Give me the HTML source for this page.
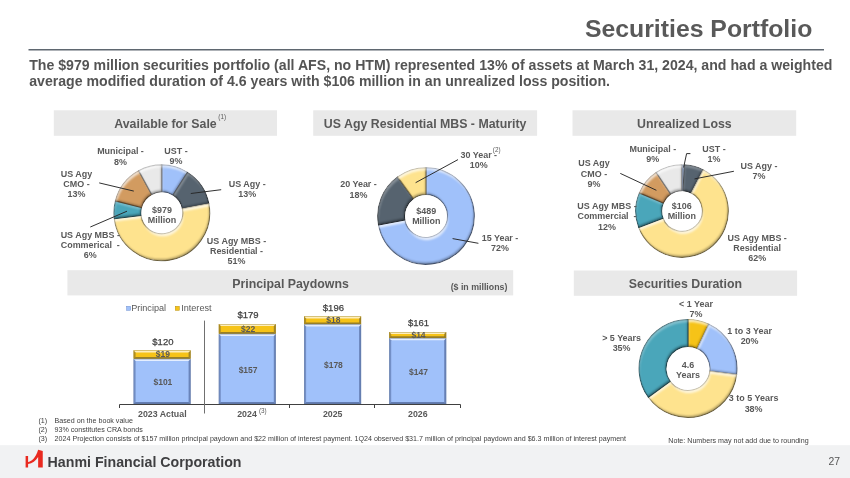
<!DOCTYPE html>
<html><head><meta charset="utf-8"><title>Securities Portfolio</title>
<style>
html,body{margin:0;padding:0;background:#fff;}
body{width:850px;height:478px;overflow:hidden;font-family:"Liberation Sans",sans-serif;}
svg{display:block;will-change:transform;font-family:"Liberation Sans",sans-serif;}
</style></head><body>
<svg width="850" height="478" viewBox="0 0 850 478">
<defs>
<filter id="bev" x="-5%" y="-5%" width="110%" height="110%" color-interpolation-filters="sRGB">
  <feComponentTransfer in="SourceAlpha" result="inv"><feFuncA type="table" tableValues="1 0"/></feComponentTransfer>
  <feGaussianBlur in="inv" stdDeviation="1.1" result="invb"/>
  <feFlood flood-color="#000000" flood-opacity="0.4"/>
  <feComposite in2="invb" operator="in" result="glow"/>
  <feOffset in="SourceAlpha" dx="0.9" dy="2.5" result="o1"/>
  <feComposite in="SourceAlpha" in2="o1" operator="out" result="hl"/>
  <feGaussianBlur in="hl" stdDeviation="0.9" result="hlb"/>
  <feFlood flood-color="#ffffff" flood-opacity="0.8"/>
  <feComposite in2="hlb" operator="in" result="hlc"/>
  <feOffset in="SourceAlpha" dx="-1.2" dy="-2.3" result="o2"/>
  <feComposite in="SourceAlpha" in2="o2" operator="out" result="sh"/>
  <feGaussianBlur in="sh" stdDeviation="0.9" result="shb"/>
  <feFlood flood-color="#000000" flood-opacity="0.35"/>
  <feComposite in2="shb" operator="in" result="shc"/>
  <feMerge result="m">
    <feMergeNode in="SourceGraphic"/><feMergeNode in="glow"/><feMergeNode in="shc"/><feMergeNode in="hlc"/>
  </feMerge>
  <feComposite in="m" in2="SourceAlpha" operator="in"/>
</filter>
<filter id="bevd" x="-5%" y="-5%" width="110%" height="110%" color-interpolation-filters="sRGB">
  <feComponentTransfer in="SourceAlpha" result="inv"><feFuncA type="table" tableValues="1 0"/></feComponentTransfer>
  <feGaussianBlur in="inv" stdDeviation="1.1" result="invb"/>
  <feFlood flood-color="#000000" flood-opacity="0.45"/>
  <feComposite in2="invb" operator="in" result="glow"/>
  <feOffset in="SourceAlpha" dx="0.9" dy="2.5" result="o1"/>
  <feComposite in="SourceAlpha" in2="o1" operator="out" result="hl"/>
  <feGaussianBlur in="hl" stdDeviation="0.9" result="hlb"/>
  <feFlood flood-color="#ffffff" flood-opacity="0.35"/>
  <feComposite in2="hlb" operator="in" result="hlc"/>
  <feOffset in="SourceAlpha" dx="-1.2" dy="-2.3" result="o2"/>
  <feComposite in="SourceAlpha" in2="o2" operator="out" result="sh"/>
  <feGaussianBlur in="sh" stdDeviation="0.9" result="shb"/>
  <feFlood flood-color="#000000" flood-opacity="0.4"/>
  <feComposite in2="shb" operator="in" result="shc"/>
  <feMerge result="m">
    <feMergeNode in="SourceGraphic"/><feMergeNode in="glow"/><feMergeNode in="shc"/><feMergeNode in="hlc"/>
  </feMerge>
  <feComposite in="m" in2="SourceAlpha" operator="in"/>
</filter>
</defs>
<rect x="53.8" y="110.3" width="223.2" height="25.5" fill="#e9e9e9"/>
<rect x="313.2" y="110.3" width="223.9" height="25.5" fill="#e9e9e9"/>
<rect x="572.5" y="110.3" width="223.7" height="25.5" fill="#e9e9e9"/>
<rect x="67.4" y="270.2" width="445.8" height="25.2" fill="#e9e9e9"/>
<rect x="573.8" y="270.5" width="223.3" height="25.3" fill="#e9e9e9"/>
<text x="165.5" y="128.1" font-size="12.35" font-weight="bold" fill="#595959" text-anchor="middle" >Available for Sale</text>
<text x="218.3" y="119.3" font-size="6.3" font-weight="normal" fill="#595959" text-anchor="start" >(1)</text>
<text x="425.15" y="127.8" font-size="12.35" font-weight="bold" fill="#595959" text-anchor="middle" >US Agy Residential MBS - Maturity</text>
<text x="684.35" y="127.8" font-size="12.35" font-weight="bold" fill="#595959" text-anchor="middle" >Unrealized Loss</text>
<text x="290.5" y="287.6" font-size="12.35" font-weight="bold" fill="#595959" text-anchor="middle" >Principal Paydowns</text>
<text x="479" y="289.7" font-size="8.8" font-weight="bold" fill="#595959" text-anchor="middle" >($ in millions)</text>
<text x="685.4" y="288.1" font-size="12.35" font-weight="bold" fill="#595959" text-anchor="middle" >Securities Duration</text>
<path d="M161.80,164.90 A47.9,47.9 0 0 1 187.47,172.36 L173.05,195.07 A21,21 0 0 0 161.80,191.80 Z" fill="#a0c1fa" stroke="#63779b" stroke-width="1.1" stroke-linejoin="round" filter="url(#bev)"/>
<path d="M187.47,172.36 A47.9,47.9 0 0 1 208.85,203.82 L182.43,208.86 A21,21 0 0 0 173.05,195.07 Z" fill="#56636f" stroke="#353d44" stroke-width="1.1" stroke-linejoin="round" filter="url(#bevd)"/>
<path d="M208.85,203.82 A47.9,47.9 0 1 1 114.28,218.80 L140.97,215.43 A21,21 0 1 0 182.43,208.86 Z" fill="#fee38e" stroke="#9d8c58" stroke-width="1.1" stroke-linejoin="round" filter="url(#bev)"/>
<path d="M114.28,218.80 A47.9,47.9 0 0 1 115.40,200.89 L141.46,207.58 A21,21 0 0 0 140.97,215.43 Z" fill="#4aa6ba" stroke="#2d6673" stroke-width="1.1" stroke-linejoin="round" filter="url(#bevd)"/>
<path d="M115.40,200.89 A47.9,47.9 0 0 1 138.72,170.82 L151.68,194.40 A21,21 0 0 0 141.46,207.58 Z" fill="#d29b60" stroke="#82603b" stroke-width="1.1" stroke-linejoin="round" filter="url(#bev)"/>
<path d="M138.72,170.82 A47.9,47.9 0 0 1 161.80,164.90 L161.80,191.80 A21,21 0 0 0 151.68,194.40 Z" fill="#e9e9e9" stroke="#909090" stroke-width="1.1" stroke-linejoin="round" filter="url(#bev)"/>
<text x="120.5" y="154.4" font-size="8.95" font-weight="bold" fill="#595959" text-anchor="middle" >Municipal -</text>
<text x="120.5" y="164.5" font-size="8.95" font-weight="bold" fill="#595959" text-anchor="middle" >8%</text>
<text x="176" y="154.2" font-size="8.95" font-weight="bold" fill="#595959" text-anchor="middle" >UST -</text>
<text x="176" y="164.2" font-size="8.95" font-weight="bold" fill="#595959" text-anchor="middle" >9%</text>
<text x="76.5" y="176.7" font-size="8.95" font-weight="bold" fill="#595959" text-anchor="middle" >US Agy</text>
<text x="76.5" y="186.7" font-size="8.95" font-weight="bold" fill="#595959" text-anchor="middle" >CMO -</text>
<text x="76.5" y="196.6" font-size="8.95" font-weight="bold" fill="#595959" text-anchor="middle" >13%</text>
<text x="247.2" y="186.7" font-size="8.95" font-weight="bold" fill="#595959" text-anchor="middle" >US Agy -</text>
<text x="247.2" y="197" font-size="8.95" font-weight="bold" fill="#595959" text-anchor="middle" >13%</text>
<text x="90.3" y="237.8" font-size="8.95" font-weight="bold" fill="#595959" text-anchor="middle" xml:space="preserve">US Agy MBS -</text>
<text x="90.3" y="247.9" font-size="8.95" font-weight="bold" fill="#595959" text-anchor="middle" xml:space="preserve">Commerical  -</text>
<text x="90.3" y="257.8" font-size="8.95" font-weight="bold" fill="#595959" text-anchor="middle" xml:space="preserve">6%</text>
<text x="236.5" y="244" font-size="8.95" font-weight="bold" fill="#595959" text-anchor="middle" >US Agy MBS -</text>
<text x="236.5" y="254.1" font-size="8.95" font-weight="bold" fill="#595959" text-anchor="middle" >Residential -</text>
<text x="236.5" y="263.7" font-size="8.95" font-weight="bold" fill="#595959" text-anchor="middle" >51%</text>
<text x="162" y="212.8" font-size="8.95" font-weight="bold" fill="#595959" text-anchor="middle" >$979</text>
<text x="162" y="222.9" font-size="8.95" font-weight="bold" fill="#595959" text-anchor="middle" >Million</text>
<path d="M99.2,182.9 L133.8,191.1" fill="none" stroke="#262626" stroke-width="0.95"/>
<path d="M90.3,227 L127,211.2" fill="none" stroke="#262626" stroke-width="0.95"/>
<path d="M221.2,189.7 L190.8,193.5" fill="none" stroke="#262626" stroke-width="0.95"/>
<path d="M426.00,167.70 A48.3,48.3 0 1 1 378.56,225.05 L404.88,220.03 A21.5,21.5 0 1 0 426.00,194.50 Z" fill="#a0c1fa" stroke="#63779b" stroke-width="1.1" stroke-linejoin="round" filter="url(#bev)"/>
<path d="M378.56,225.05 A48.3,48.3 0 0 1 397.61,176.92 L413.36,198.61 A21.5,21.5 0 0 0 404.88,220.03 Z" fill="#56636f" stroke="#353d44" stroke-width="1.1" stroke-linejoin="round" filter="url(#bevd)"/>
<path d="M397.61,176.92 A48.3,48.3 0 0 1 426.00,167.70 L426.00,194.50 A21.5,21.5 0 0 0 413.36,198.61 Z" fill="#fee38e" stroke="#9d8c58" stroke-width="1.1" stroke-linejoin="round" filter="url(#bev)"/>
<text x="358.5" y="187" font-size="8.95" font-weight="bold" fill="#595959" text-anchor="middle" >20 Year -</text>
<text x="358.5" y="197.6" font-size="8.95" font-weight="bold" fill="#595959" text-anchor="middle" >18%</text>
<text x="478.8" y="157.7" font-size="8.95" font-weight="bold" fill="#595959" text-anchor="middle" >30 Year -</text>
<text x="478.8" y="168" font-size="8.95" font-weight="bold" fill="#595959" text-anchor="middle" >10%</text>
<text x="492.8" y="152.2" font-size="6.3" font-weight="normal" fill="#595959" text-anchor="start" >(2)</text>
<text x="500" y="240.5" font-size="8.95" font-weight="bold" fill="#595959" text-anchor="middle" >15 Year -</text>
<text x="500" y="250.9" font-size="8.95" font-weight="bold" fill="#595959" text-anchor="middle" >72%</text>
<text x="426.3" y="213.9" font-size="8.95" font-weight="bold" fill="#595959" text-anchor="middle" >$489</text>
<text x="426.3" y="224.2" font-size="8.95" font-weight="bold" fill="#595959" text-anchor="middle" >Million</text>
<path d="M458,159.6 L415.6,182.7" fill="none" stroke="#262626" stroke-width="0.95"/>
<path d="M478.4,243.3 L452.6,238.6" fill="none" stroke="#262626" stroke-width="0.95"/>
<path d="M682.00,164.70 A46.3,46.3 0 0 1 684.33,164.76 L683.02,190.73 A20.3,20.3 0 0 0 682.00,190.70 Z" fill="#a0c1fa" stroke="#63779b" stroke-width="0.3" stroke-linejoin="round" filter="url(#bev)"/>
<path d="M684.33,164.76 A46.3,46.3 0 0 1 703.28,169.88 L691.33,192.97 A20.3,20.3 0 0 0 683.02,190.73 Z" fill="#56636f" stroke="#353d44" stroke-width="1.1" stroke-linejoin="round" filter="url(#bevd)"/>
<path d="M703.28,169.88 A46.3,46.3 0 1 1 638.74,227.50 L663.03,218.24 A20.3,20.3 0 1 0 691.33,192.97 Z" fill="#fee38e" stroke="#9d8c58" stroke-width="1.1" stroke-linejoin="round" filter="url(#bev)"/>
<path d="M638.74,227.50 A46.3,46.3 0 0 1 639.39,192.88 L663.32,203.06 A20.3,20.3 0 0 0 663.03,218.24 Z" fill="#4aa6ba" stroke="#2d6673" stroke-width="1.1" stroke-linejoin="round" filter="url(#bevd)"/>
<path d="M639.39,192.88 A46.3,46.3 0 0 1 656.22,172.54 L670.70,194.14 A20.3,20.3 0 0 0 663.32,203.06 Z" fill="#d29b60" stroke="#82603b" stroke-width="1.1" stroke-linejoin="round" filter="url(#bev)"/>
<path d="M656.22,172.54 A46.3,46.3 0 0 1 682.00,164.70 L682.00,190.70 A20.3,20.3 0 0 0 670.70,194.14 Z" fill="#e9e9e9" stroke="#909090" stroke-width="1.1" stroke-linejoin="round" filter="url(#bev)"/>
<text x="652.8" y="151.7" font-size="8.95" font-weight="bold" fill="#595959" text-anchor="middle" >Municipal -</text>
<text x="652.8" y="161.7" font-size="8.95" font-weight="bold" fill="#595959" text-anchor="middle" >9%</text>
<text x="714" y="151.7" font-size="8.95" font-weight="bold" fill="#595959" text-anchor="middle" >UST -</text>
<text x="714" y="162.2" font-size="8.95" font-weight="bold" fill="#595959" text-anchor="middle" >1%</text>
<text x="594" y="166.4" font-size="8.95" font-weight="bold" fill="#595959" text-anchor="middle" >US Agy</text>
<text x="594" y="176.7" font-size="8.95" font-weight="bold" fill="#595959" text-anchor="middle" >CMO -</text>
<text x="594" y="186.7" font-size="8.95" font-weight="bold" fill="#595959" text-anchor="middle" >9%</text>
<text x="759" y="169.3" font-size="8.95" font-weight="bold" fill="#595959" text-anchor="middle" >US Agy -</text>
<text x="759" y="179.4" font-size="8.95" font-weight="bold" fill="#595959" text-anchor="middle" >7%</text>
<text x="607" y="209.3" font-size="8.95" font-weight="bold" fill="#595959" text-anchor="middle" xml:space="preserve">US Agy MBS -</text>
<text x="607" y="219.3" font-size="8.95" font-weight="bold" fill="#595959" text-anchor="middle" xml:space="preserve">Commercial  -</text>
<text x="607" y="229.7" font-size="8.95" font-weight="bold" fill="#595959" text-anchor="middle" xml:space="preserve">12%</text>
<text x="757.2" y="240.5" font-size="8.95" font-weight="bold" fill="#595959" text-anchor="middle" >US Agy MBS -</text>
<text x="757.2" y="250.9" font-size="8.95" font-weight="bold" fill="#595959" text-anchor="middle" >Residential</text>
<text x="757.2" y="260.9" font-size="8.95" font-weight="bold" fill="#595959" text-anchor="middle" >62%</text>
<text x="681.8" y="208.5" font-size="8.95" font-weight="bold" fill="#595959" text-anchor="middle" >$106</text>
<text x="681.8" y="218.8" font-size="8.95" font-weight="bold" fill="#595959" text-anchor="middle" >Million</text>
<path d="M620.3,173.4 L656.4,190.3" fill="none" stroke="#262626" stroke-width="0.95"/>
<path d="M690.4,153.6 L686.6,153.6 L683.6,167.5" fill="none" stroke="#262626" stroke-width="0.95"/>
<path d="M733.9,171.25 L694.5,178.9" fill="none" stroke="#262626" stroke-width="0.95"/>
<path d="M688.00,319.50 A49,49 0 0 1 708.86,324.16 L697.37,348.59 A22,22 0 0 0 688.00,346.50 Z" fill="#f6c318" stroke="#98780e" stroke-width="1.1" stroke-linejoin="round" filter="url(#bev)"/>
<path d="M708.86,324.16 A49,49 0 0 1 736.61,374.64 L709.83,371.26 A22,22 0 0 0 697.37,348.59 Z" fill="#a0c1fa" stroke="#63779b" stroke-width="1.1" stroke-linejoin="round" filter="url(#bev)"/>
<path d="M736.61,374.64 A49,49 0 0 1 648.36,397.30 L670.20,381.43 A22,22 0 0 0 709.83,371.26 Z" fill="#fee38e" stroke="#9d8c58" stroke-width="1.1" stroke-linejoin="round" filter="url(#bev)"/>
<path d="M648.36,397.30 A49,49 0 0 1 688.00,319.50 L688.00,346.50 A22,22 0 0 0 670.20,381.43 Z" fill="#4aa6ba" stroke="#2d6673" stroke-width="1.1" stroke-linejoin="round" filter="url(#bevd)"/>
<text x="696" y="306.7" font-size="8.95" font-weight="bold" fill="#595959" text-anchor="middle" >&lt; 1 Year</text>
<text x="696" y="317.3" font-size="8.95" font-weight="bold" fill="#595959" text-anchor="middle" >7%</text>
<text x="749.6" y="334.4" font-size="8.95" font-weight="bold" fill="#595959" text-anchor="middle" >1 to 3 Year</text>
<text x="749.6" y="344.3" font-size="8.95" font-weight="bold" fill="#595959" text-anchor="middle" >20%</text>
<text x="621.6" y="340.5" font-size="8.95" font-weight="bold" fill="#595959" text-anchor="middle" >&gt; 5 Years</text>
<text x="621.6" y="350.9" font-size="8.95" font-weight="bold" fill="#595959" text-anchor="middle" >35%</text>
<text x="753.6" y="401.25" font-size="8.95" font-weight="bold" fill="#595959" text-anchor="middle" >3 to 5 Years</text>
<text x="753.6" y="411.9" font-size="8.95" font-weight="bold" fill="#595959" text-anchor="middle" >38%</text>
<text x="688" y="367.5" font-size="8.95" font-weight="bold" fill="#595959" text-anchor="middle" >4.6</text>
<text x="688" y="378" font-size="8.95" font-weight="bold" fill="#595959" text-anchor="middle" >Years</text>
<rect x="133.6" y="350.42" width="57" height="8.48" fill="#f6c318"/>
<path d="M133.6,350.42 L190.6,350.42 L188.6,352.42 L135.6,352.42 Z" fill="#fff" fill-opacity="0.72"/>
<path d="M133.6,350.42 L135.6,352.42 L135.6,356.90 L133.6,358.90 Z" fill="#001040" fill-opacity="0.28"/>
<path d="M190.6,350.42 L188.6,352.42 L188.6,356.90 L190.6,358.90 Z" fill="#001040" fill-opacity="0.34"/>
<path d="M133.6,358.90 L135.6,356.90 L188.6,356.90 L190.6,358.90 Z" fill="#001040" fill-opacity="0.38"/>
<rect x="133.85" y="350.67" width="56.5" height="7.98" fill="none" stroke="#93750e" stroke-width="0.5" stroke-opacity="0.7"/>
<rect x="133.6" y="358.90" width="57" height="45.10" fill="#a0c1fa"/>
<path d="M133.6,358.90 L190.6,358.90 L188.6,360.90 L135.6,360.90 Z" fill="#fff" fill-opacity="0.72"/>
<path d="M133.6,358.90 L135.6,360.90 L135.6,402.00 L133.6,404.00 Z" fill="#001040" fill-opacity="0.28"/>
<path d="M190.6,358.90 L188.6,360.90 L188.6,402.00 L190.6,404.00 Z" fill="#001040" fill-opacity="0.34"/>
<path d="M133.6,404.00 L135.6,402.00 L188.6,402.00 L190.6,404.00 Z" fill="#001040" fill-opacity="0.38"/>
<rect x="133.85" y="359.15" width="56.5" height="44.60" fill="none" stroke="#607396" stroke-width="0.5" stroke-opacity="0.7"/>
<text x="162.9" y="344.62" font-size="9.5" font-weight="normal" fill="#404040" text-anchor="middle" stroke="#404040" stroke-width="0.25">$120</text>
<text x="162.9" y="357.26175" font-size="8.5" font-weight="bold" fill="#595959" text-anchor="middle" >$19</text>
<text x="162.9" y="385.05175" font-size="8.5" font-weight="bold" fill="#595959" text-anchor="middle" >$101</text>
<rect x="218.8" y="324.08" width="57" height="9.82" fill="#f6c318"/>
<path d="M218.8,324.08 L275.8,324.08 L273.8,326.08 L220.8,326.08 Z" fill="#fff" fill-opacity="0.72"/>
<path d="M218.8,324.08 L220.8,326.08 L220.8,331.90 L218.8,333.90 Z" fill="#001040" fill-opacity="0.28"/>
<path d="M275.8,324.08 L273.8,326.08 L273.8,331.90 L275.8,333.90 Z" fill="#001040" fill-opacity="0.34"/>
<path d="M218.8,333.90 L220.8,331.90 L273.8,331.90 L275.8,333.90 Z" fill="#001040" fill-opacity="0.38"/>
<rect x="219.05" y="324.33" width="56.5" height="9.32" fill="none" stroke="#93750e" stroke-width="0.5" stroke-opacity="0.7"/>
<rect x="218.8" y="333.90" width="57" height="70.10" fill="#a0c1fa"/>
<path d="M218.8,333.90 L275.8,333.90 L273.8,335.90 L220.8,335.90 Z" fill="#fff" fill-opacity="0.72"/>
<path d="M218.8,333.90 L220.8,335.90 L220.8,402.00 L218.8,404.00 Z" fill="#001040" fill-opacity="0.28"/>
<path d="M275.8,333.90 L273.8,335.90 L273.8,402.00 L275.8,404.00 Z" fill="#001040" fill-opacity="0.34"/>
<path d="M218.8,404.00 L220.8,402.00 L273.8,402.00 L275.8,404.00 Z" fill="#001040" fill-opacity="0.38"/>
<rect x="219.05" y="334.15" width="56.5" height="69.60" fill="none" stroke="#607396" stroke-width="0.5" stroke-opacity="0.7"/>
<text x="248.10000000000002" y="318.2765" font-size="9.5" font-weight="normal" fill="#404040" text-anchor="middle" stroke="#404040" stroke-width="0.25">$179</text>
<text x="248.10000000000002" y="331.588" font-size="8.5" font-weight="bold" fill="#595959" text-anchor="middle" >$22</text>
<text x="248.10000000000002" y="372.54975" font-size="8.5" font-weight="bold" fill="#595959" text-anchor="middle" >$157</text>
<rect x="304.1" y="316.49" width="57" height="8.04" fill="#f6c318"/>
<path d="M304.1,316.49 L361.1,316.49 L359.1,318.49 L306.1,318.49 Z" fill="#fff" fill-opacity="0.72"/>
<path d="M304.1,316.49 L306.1,318.49 L306.1,322.52 L304.1,324.52 Z" fill="#001040" fill-opacity="0.28"/>
<path d="M361.1,316.49 L359.1,318.49 L359.1,322.52 L361.1,324.52 Z" fill="#001040" fill-opacity="0.34"/>
<path d="M304.1,324.52 L306.1,322.52 L359.1,322.52 L361.1,324.52 Z" fill="#001040" fill-opacity="0.38"/>
<rect x="304.35" y="316.74" width="56.5" height="7.54" fill="none" stroke="#93750e" stroke-width="0.5" stroke-opacity="0.7"/>
<rect x="304.1" y="324.52" width="57" height="79.48" fill="#a0c1fa"/>
<path d="M304.1,324.52 L361.1,324.52 L359.1,326.52 L306.1,326.52 Z" fill="#fff" fill-opacity="0.72"/>
<path d="M304.1,324.52 L306.1,326.52 L306.1,402.00 L304.1,404.00 Z" fill="#001040" fill-opacity="0.28"/>
<path d="M361.1,324.52 L359.1,326.52 L359.1,402.00 L361.1,404.00 Z" fill="#001040" fill-opacity="0.34"/>
<path d="M304.1,404.00 L306.1,402.00 L359.1,402.00 L361.1,404.00 Z" fill="#001040" fill-opacity="0.38"/>
<rect x="304.35" y="324.77" width="56.5" height="78.98" fill="none" stroke="#607396" stroke-width="0.5" stroke-opacity="0.7"/>
<text x="333.40000000000003" y="310.686" font-size="9.5" font-weight="normal" fill="#404040" text-anchor="middle" stroke="#404040" stroke-width="0.25">$196</text>
<text x="333.40000000000003" y="323.10450000000003" font-size="8.5" font-weight="bold" fill="#595959" text-anchor="middle" >$18</text>
<text x="333.40000000000003" y="367.86150000000004" font-size="8.5" font-weight="bold" fill="#595959" text-anchor="middle" >$178</text>
<rect x="389.2" y="332.11" width="57" height="6.25" fill="#f6c318"/>
<path d="M389.2,332.11 L446.2,332.11 L444.2,334.11 L391.2,334.11 Z" fill="#fff" fill-opacity="0.72"/>
<path d="M389.2,332.11 L391.2,334.11 L391.2,336.36 L389.2,338.36 Z" fill="#001040" fill-opacity="0.28"/>
<path d="M446.2,332.11 L444.2,334.11 L444.2,336.36 L446.2,338.36 Z" fill="#001040" fill-opacity="0.34"/>
<path d="M389.2,338.36 L391.2,336.36 L444.2,336.36 L446.2,338.36 Z" fill="#001040" fill-opacity="0.38"/>
<rect x="389.45" y="332.36" width="56.5" height="5.75" fill="none" stroke="#93750e" stroke-width="0.5" stroke-opacity="0.7"/>
<rect x="389.2" y="338.36" width="57" height="65.64" fill="#a0c1fa"/>
<path d="M389.2,338.36 L446.2,338.36 L444.2,340.36 L391.2,340.36 Z" fill="#fff" fill-opacity="0.72"/>
<path d="M389.2,338.36 L391.2,340.36 L391.2,402.00 L389.2,404.00 Z" fill="#001040" fill-opacity="0.28"/>
<path d="M446.2,338.36 L444.2,340.36 L444.2,402.00 L446.2,404.00 Z" fill="#001040" fill-opacity="0.34"/>
<path d="M389.2,404.00 L391.2,402.00 L444.2,402.00 L446.2,404.00 Z" fill="#001040" fill-opacity="0.38"/>
<rect x="389.45" y="338.61" width="56.5" height="65.14" fill="none" stroke="#607396" stroke-width="0.5" stroke-opacity="0.7"/>
<text x="418.5" y="326.3135" font-size="9.5" font-weight="normal" fill="#404040" text-anchor="middle" stroke="#404040" stroke-width="0.25">$161</text>
<text x="418.5" y="337.83900000000006" font-size="8.5" font-weight="bold" fill="#595959" text-anchor="middle" >$14</text>
<text x="418.5" y="374.78225000000003" font-size="8.5" font-weight="bold" fill="#595959" text-anchor="middle" >$147</text>
<path d="M119.5,408 L119.5,404.5 L460.5,404.5 L460.5,408" fill="none" stroke="#404040" stroke-width="1"/>
<path d="M289.5,404.5 L289.5,408" fill="none" stroke="#404040" stroke-width="1"/>
<path d="M374.5,404.5 L374.5,408" fill="none" stroke="#404040" stroke-width="1"/>
<path d="M204.5,320.6 L204.5,413.5" fill="none" stroke="#707070" stroke-width="1"/>
<text x="162.3" y="417.3" font-size="8.8" font-weight="bold" fill="#595959" text-anchor="middle" >2023 Actual</text>
<text x="247" y="417.3" font-size="8.8" font-weight="bold" fill="#595959" text-anchor="middle" >2024</text>
<text x="259" y="412.5" font-size="6.3" font-weight="normal" fill="#595959" text-anchor="start" >(3)</text>
<text x="332.7" y="417.3" font-size="8.8" font-weight="bold" fill="#595959" text-anchor="middle" >2025</text>
<text x="417.8" y="417.3" font-size="8.8" font-weight="bold" fill="#595959" text-anchor="middle" >2026</text>
<rect x="126.6" y="306.3" width="4" height="4" fill="#a0c1fa" stroke="#6f8fd0" stroke-width="0.5"/>
<text x="131.2" y="310.8" font-size="9.1" font-weight="normal" fill="#595959" text-anchor="start" >Principal</text>
<rect x="175.3" y="306.3" width="4" height="4" fill="#f6c318" stroke="#b8900c" stroke-width="0.5"/>
<text x="181.2" y="310.8" font-size="9.1" font-weight="normal" fill="#595959" text-anchor="start" >Interest</text>
<text x="38.5" y="423.1" font-size="7.126" font-weight="normal" fill="#404040" text-anchor="start" >(1)</text>
<text x="54.6" y="423.1" font-size="7.126" font-weight="normal" fill="#404040" text-anchor="start" >Based on the book value</text>
<text x="38.5" y="431.9" font-size="7.126" font-weight="normal" fill="#404040" text-anchor="start" >(2)</text>
<text x="54.6" y="431.9" font-size="7.126" font-weight="normal" fill="#404040" text-anchor="start" >93% constitutes CRA bonds</text>
<text x="38.5" y="440.6" font-size="7.126" font-weight="normal" fill="#404040" text-anchor="start" >(3)</text>
<text x="54.6" y="440.6" font-size="7.126" font-weight="normal" fill="#404040" text-anchor="start" >2024 Projection consists of $157 million principal paydown and $22 million of interest payment. 1Q24 observed $31.7 million of principal paydown and $6.3 million of interest payment</text>
<text x="668.3" y="442.5" font-size="7.126" font-weight="normal" fill="#404040" text-anchor="start" >Note: Numbers may not add due to rounding</text>
<rect x="0" y="445.2" width="850" height="33" fill="#f1f2f3"/>
<text x="828.5" y="465.3" font-size="10.4" font-weight="normal" fill="#555" text-anchor="start" >27</text>
<path d="M25.6,456.1 L28.1,456.1 L28.1,462.0 C31.2,461.4 35.6,458.3 38.15,449.7 L42.75,451.1 L42.75,467.4 L38.15,467.4 L38.15,456.9 C36,460.6 32.2,463.3 28.1,463.9 L28.1,467.4 L25.6,467.4 Z" fill="#e92a20"/>
<text x="47.6" y="467.1" font-size="14.2" font-weight="bold" fill="#3f3f41" text-anchor="start" >Hanmi Financial Corporation</text>
<text x="812.3" y="37.3" font-size="24.8" font-weight="bold" fill="#595959" text-anchor="end" >Securities Portfolio</text>
<rect x="28.5" y="49" width="795.5" height="1.5" fill="#5f6770"/>
<text x="29.2" y="69.7" font-size="14.13" font-weight="bold" fill="#545454" text-anchor="start" >The $979 million securities portfolio (all AFS, no HTM) represented 13% of assets at March 31, 2024, and had a weighted</text>
<text x="29.2" y="86.2" font-size="14.13" font-weight="bold" fill="#545454" text-anchor="start" >average modified duration of 4.6 years with $106 million in an unrealized loss position.</text>
</svg>
</body></html>
